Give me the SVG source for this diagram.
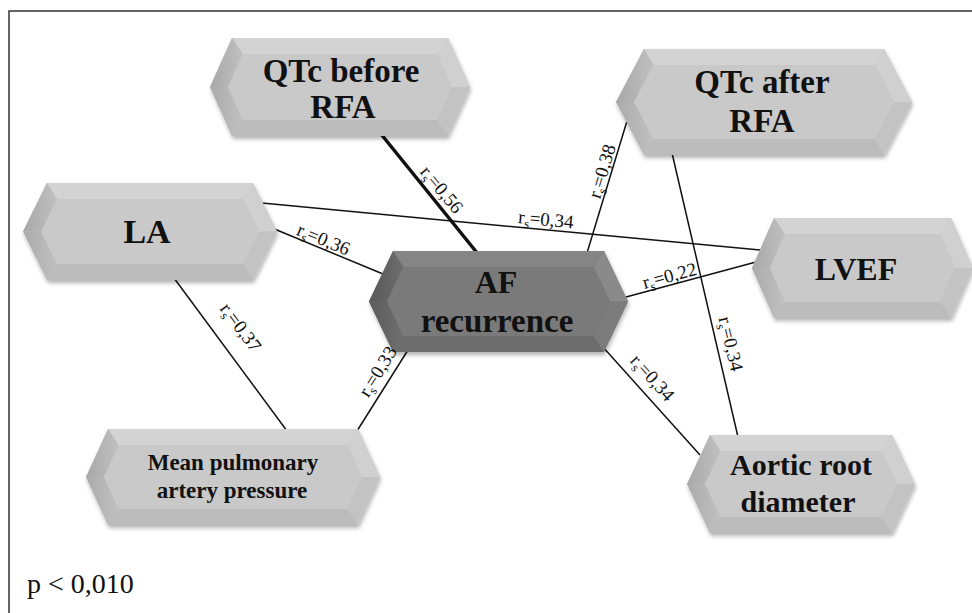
<svg xmlns="http://www.w3.org/2000/svg" width="972" height="613" viewBox="0 0 972 613">
<defs>
<filter id="sh" x="-10%" y="-10%" width="120%" height="130%">
<feDropShadow dx="1" dy="3" stdDeviation="2" flood-color="#000" flood-opacity="0.3"/>
</filter>
<linearGradient id="gll" x1="0" y1="0" x2="1" y2="0">
<stop offset="0" stop-color="#a8a8a8"/><stop offset="1" stop-color="#c0c0c0"/>
</linearGradient>
<linearGradient id="gdl" x1="0" y1="0" x2="1" y2="0">
<stop offset="0" stop-color="#585858"/><stop offset="1" stop-color="#6e6e6e"/>
</linearGradient>
</defs>
<style>
.border{stroke:#333;stroke-width:1.5;fill:none}
.conn line{stroke:#111;stroke-width:1.5}
.conn line.thick{stroke-width:3.5}
.light .o{fill:#c4c4c4;filter:url(#sh)}
.light .f{fill:#c9c9c9}
.light .t{fill:#d3d3d3}
.light .b{fill:#bcbcbc}
.light .lu{fill:url(#gll)}
.light .ll{fill:url(#gll);opacity:0.9}
.light .ru{fill:#d0d0d0}
.light .rl{fill:#c3c3c3}
.dark .o{fill:#767676;filter:url(#sh)}
.dark .f{fill:#7a7a7a}
.dark .t{fill:#858585}
.dark .b{fill:#6d6d6d}
.dark .lu{fill:url(#gdl)}
.dark .ll{fill:url(#gdl);opacity:0.9}
.dark .ru{fill:#8a8a8a}
.dark .rl{fill:#7c7c7c}
.nt{font-family:"Liberation Serif","Times New Roman",serif;font-weight:bold;text-anchor:middle;fill:#111}
.lbl{font-family:"Liberation Serif","Times New Roman",serif;font-size:19px;text-anchor:middle;fill:#111}
.sub{font-size:13px}
.pv{font-family:"Liberation Serif","Times New Roman",serif;font-size:28px;fill:#111}
</style>
<rect x="0" y="0" width="972" height="613" fill="#fff"/>
<path class="border" d="M9,613 V11 H972"/>

<g id="connectors" class="conn">
<line class="thick" x1="381" y1="134" x2="478" y2="254"/>
<line x1="262" y1="203" x2="760" y2="250"/>
<line x1="272" y1="228" x2="383" y2="274"/>
<line x1="587" y1="253" x2="627" y2="121"/>
<line x1="672" y1="153" x2="738" y2="437"/>
<line x1="626" y1="297" x2="756" y2="262"/>
<line x1="602" y1="346" x2="700" y2="455"/>
<line x1="174" y1="278" x2="287" y2="431"/>
<line x1="357" y1="431" x2="408" y2="350"/>
</g>

<g id="qtc-before" class="light">
<polygon class="o" points="210,87 232,38 448,38 470,87 448,136 232,136"/>
<polygon class="t" points="232,38 448,38 437.2,54 242.8,54"/>
<polygon class="ru" points="448,38 470,87 452,87 437.2,54"/>
<polygon class="rl" points="470,87 448,136 437.2,120 452,87"/>
<polygon class="b" points="448,136 232,136 242.8,120 437.2,120"/>
<polygon class="ll" points="232,136 210,87 228,87 242.8,120"/>
<polygon class="lu" points="210,87 232,38 242.8,54 228,87"/>
<polygon class="f" points="228,87 242.8,54 437.2,54 452,87 437.2,120 242.8,120"/>
<text class="nt" font-size="33" x="341" y="82">QTc before</text>
<text class="nt" font-size="33" x="343" y="118">RFA</text>
</g>

<g id="qtc-after" class="light">
<polygon class="o" points="616,102 644,49 884,49 912,102 884,155 644,155"/>
<polygon class="t" points="644,49 884,49 874.5,65 653.5,65"/>
<polygon class="ru" points="884,49 912,102 894,102 874.5,65"/>
<polygon class="rl" points="912,102 884,155 874.5,139 894,102"/>
<polygon class="b" points="884,155 644,155 653.5,139 874.5,139"/>
<polygon class="ll" points="644,155 616,102 634,102 653.5,139"/>
<polygon class="lu" points="616,102 644,49 653.5,65 634,102"/>
<polygon class="f" points="634,102 653.5,65 874.5,65 894,102 874.5,139 653.5,139"/>
<text class="nt" font-size="33" x="762" y="93">QTc after</text>
<text class="nt" font-size="33" x="762" y="132">RFA</text>
</g>

<g id="la" class="light">
<polygon class="o" points="23,231.5 47,183 253,183 277,231.5 253,280 47,280"/>
<polygon class="t" points="47,183 253,183 242.9,199 57.1,199"/>
<polygon class="ru" points="253,183 277,231.5 259,231.5 242.9,199"/>
<polygon class="rl" points="277,231.5 253,280 242.9,264 259,231.5"/>
<polygon class="b" points="253,280 47,280 57.1,264 242.9,264"/>
<polygon class="ll" points="47,280 23,231.5 41,231.5 57.1,264"/>
<polygon class="lu" points="23,231.5 47,183 57.1,199 41,231.5"/>
<polygon class="f" points="41,231.5 57.1,199 242.9,199 259,231.5 242.9,264 57.1,264"/>
<text class="nt" font-size="34" x="147" y="243">LA</text>
</g>

<g id="af-recurrence" class="dark">
<polygon class="o" points="369,301.5 393,251 604,251 628,301.5 604,352 393,352"/>
<polygon class="t" points="393,251 604,251 593.6,267 403.4,267"/>
<polygon class="ru" points="604,251 628,301.5 610,301.5 593.6,267"/>
<polygon class="rl" points="628,301.5 604,352 593.6,336 610,301.5"/>
<polygon class="b" points="604,352 393,352 403.4,336 593.6,336"/>
<polygon class="ll" points="393,352 369,301.5 387,301.5 403.4,336"/>
<polygon class="lu" points="369,301.5 393,251 403.4,267 387,301.5"/>
<polygon class="f" points="387,301.5 403.4,267 593.6,267 610,301.5 593.6,336 403.4,336"/>
<text class="nt" font-size="32" x="496" y="293">AF</text>
<text class="nt" font-size="33" x="497" y="332">recurrence</text>
</g>

<g id="lvef" class="light">
<polygon class="o" points="752,268 774,218 951,218 973,268 951,318 774,318"/>
<polygon class="t" points="774,218 951,218 940,234 785,234"/>
<polygon class="ru" points="951,218 973,268 955,268 940,234"/>
<polygon class="rl" points="973,268 951,318 940,302 955,268"/>
<polygon class="b" points="951,318 774,318 785,302 940,302"/>
<polygon class="ll" points="774,318 752,268 770,268 785,302"/>
<polygon class="lu" points="752,268 774,218 785,234 770,268"/>
<polygon class="f" points="770,268 785,234 940,234 955,268 940,302 785,302"/>
<text class="nt" font-size="32" x="856" y="280">LVEF</text>
</g>

<g id="mean-pulmonary" class="light">
<polygon class="o" points="86,477 108,429 358,429 380,477 358,525 108,525"/>
<polygon class="t" points="108,429 358,429 347.3,445 118.7,445"/>
<polygon class="ru" points="358,429 380,477 362,477 347.3,445"/>
<polygon class="rl" points="380,477 358,525 347.3,509 362,477"/>
<polygon class="b" points="358,525 108,525 118.7,509 347.3,509"/>
<polygon class="ll" points="108,525 86,477 104,477 118.7,509"/>
<polygon class="lu" points="86,477 108,429 118.7,445 104,477"/>
<polygon class="f" points="104,477 118.7,445 347.3,445 362,477 347.3,509 118.7,509"/>
<text class="nt" font-size="23" x="233" y="470">Mean pulmonary</text>
<text class="nt" font-size="23" x="232" y="498">artery pressure</text>
</g>

<g id="aortic-root" class="light">
<polygon class="o" points="687,484 710,435 892,435 915,484 892,533 710,533"/>
<polygon class="t" points="710,435 892,435 881.5,451 720.5,451"/>
<polygon class="ru" points="892,435 915,484 897,484 881.5,451"/>
<polygon class="rl" points="915,484 892,533 881.5,517 897,484"/>
<polygon class="b" points="892,533 710,533 720.5,517 881.5,517"/>
<polygon class="ll" points="710,533 687,484 705,484 720.5,517"/>
<polygon class="lu" points="687,484 710,435 720.5,451 705,484"/>
<polygon class="f" points="705,484 720.5,451 881.5,451 897,484 881.5,517 720.5,517"/>
<text class="nt" font-size="30" x="801" y="475">Aortic root</text>
<text class="nt" font-size="30" x="798" y="512">diameter</text>
</g>

<g id="labels">
<g transform="translate(433,196.7) rotate(50.4)"><text class="lbl" y="-5">r<tspan class="sub" dy="4">s</tspan><tspan dy="-4">=0,56</tspan></text></g>
<g transform="translate(545,229.7) rotate(5.4)"><text class="lbl" y="-4">r<tspan class="sub" dy="4">s</tspan><tspan dy="-4">=0,34</tspan></text></g>
<g transform="translate(320,247.9) rotate(22.5)"><text class="lbl" y="-3">r<tspan class="sub" dy="4">s</tspan><tspan dy="-4">=0,36</tspan></text></g>
<g transform="translate(610.9,174) rotate(-73.1)"><text class="lbl" y="-3">r<tspan class="sub" dy="4">s</tspan><tspan dy="-4">=0,38</tspan></text></g>
<g transform="translate(717,347) rotate(76.9)"><text class="lbl" y="-8">r<tspan class="sub" dy="4">s</tspan><tspan dy="-4">=0,34</tspan></text></g>
<g transform="translate(672,284.6) rotate(-15.1)"><text class="lbl" y="-3">r<tspan class="sub" dy="4">s</tspan><tspan dy="-4">=0,22</tspan></text></g>
<g transform="translate(640.3,388.6) rotate(48)"><text class="lbl" y="-10">r<tspan class="sub" dy="4">s</tspan><tspan dy="-4">=0,34</tspan></text></g>
<g transform="translate(221.2,341.8) rotate(53.6)"><text class="lbl" y="-18">r<tspan class="sub" dy="4">s</tspan><tspan dy="-4">=0,37</tspan></text></g>
<g transform="translate(389.7,379) rotate(-57.8)"><text class="lbl" y="-8">r<tspan class="sub" dy="4">s</tspan><tspan dy="-4">=0,33</tspan></text></g>
</g>

<text class="pv" x="27" y="593">p &lt; 0,010</text>
</svg>
